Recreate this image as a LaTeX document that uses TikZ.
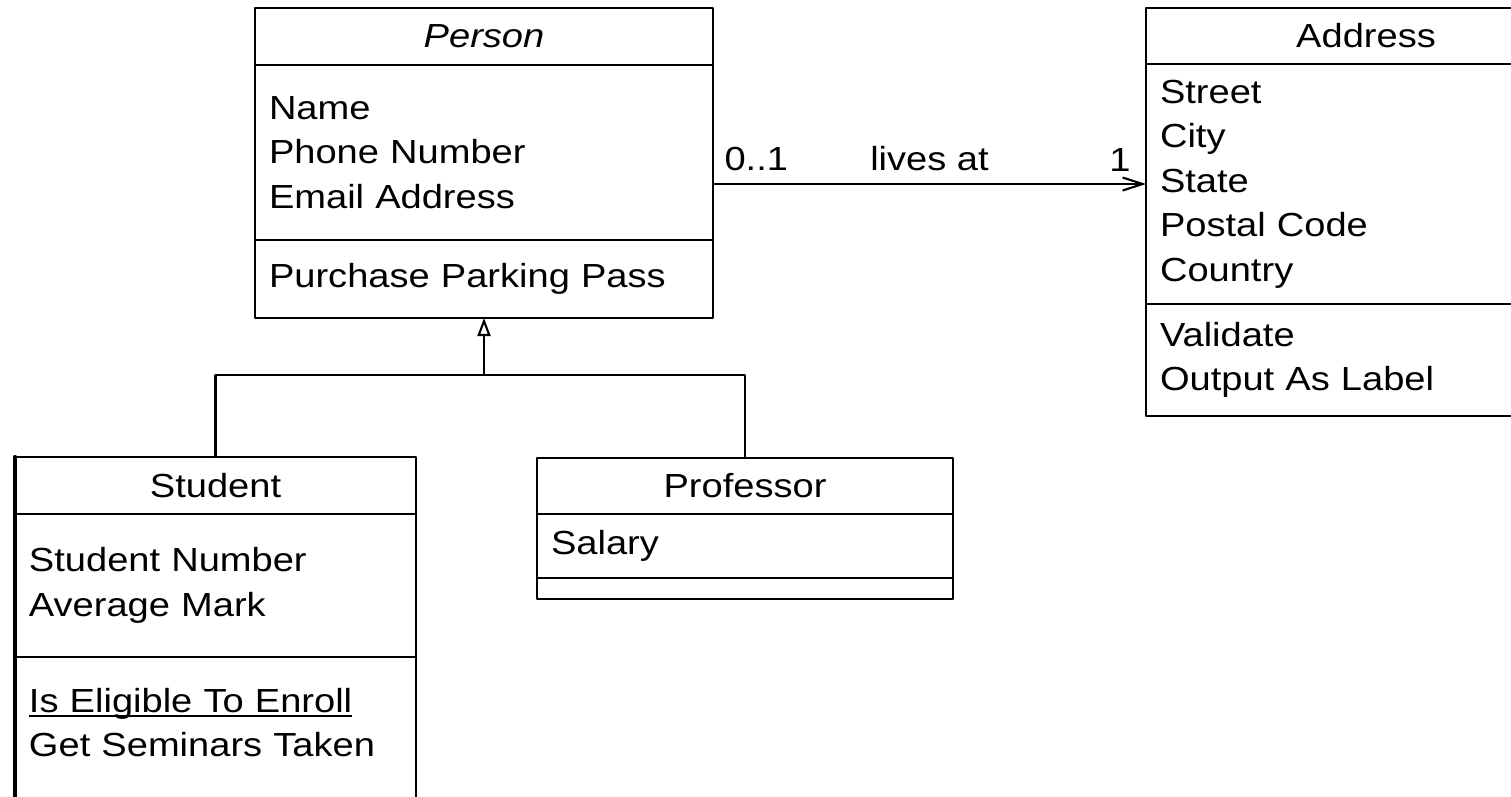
\documentclass[tikz,border=0pt]{standalone}
\usepackage{fontspec}
\setmainfont[FakeStretch=1.14]{Liberation Sans}
\usetikzlibrary{positioning,arrows.meta}
\newcommand{\subrayado}[1]{\setbox0\hbox{#1}\rlap{\rule[-1.3pt]{\wd0}{0.55pt}}\box0}

\begin{document}
\begin{tikzpicture}[x=1cm,y=-1cm,line cap=round,line join=round,
        font=\fontsize{9.5}{12.66}\selectfont,
        caja/.style={draw,line width=0.6pt,rectangle,outer sep=0pt,
            inner xsep=0.14cm,inner ysep=0pt,align=left},
        cabeza/.style={caja,align=center},
        linea/.style={line width=0.6pt},
        asociacion/.style={line width=0.6pt,-{Straight Barb[length=0.2cm,width=0.13cm]}},
        herencia/.style={line width=0.6pt,-{Triangle[open,length=0.18cm,width=0.13cm]}}]
        \useasboundingbox (0,0) rectangle (15.11,7.96);
        \clip (0,0) rectangle (15.11,7.96);

        % Clase abstracta Person
        \node[cabeza,text width=4.30cm,minimum height=0.57cm,anchor=north west]
            (personhead) at (2.55,0.08) {\itshape Person};
        \node[caja,text width=4.30cm,minimum height=1.75cm,below=0pt of personhead]
            (personattr) {Name\\Phone Number\\Email Address};
        \node[caja,text width=4.30cm,minimum height=0.78cm,below=0pt of personattr]
            (personops) {Purchase Parking Pass};

        % Clase Address
        \node[cabeza,text width=4.12cm,minimum height=0.56cm,anchor=north west]
            (addrhead) at (11.46,0.08) {Address};
        \node[caja,text width=4.12cm,minimum height=2.40cm,below=0pt of addrhead]
            (addrattr) {Street\\City\\State\\Postal Code\\Country};
        \node[caja,text width=4.12cm,minimum height=1.12cm,below=0pt of addrattr]
            (addrops) {Validate\\Output As Label};

        % Subclases
        \node[cabeza,text width=3.73cm,minimum height=0.57cm,anchor=north west]
            (studhead) at (0.15,4.57) {Student};
        \node[caja,text width=3.73cm,minimum height=1.43cm,below=0pt of studhead]
            (studattr) {Student Number\\Average Mark};
        \node[caja,text width=3.73cm,minimum height=1.60cm,text depth=0.74cm,below=0pt of studattr]
            (studops) {\subrayado{Is Eligible To Enroll}\\Get Seminars Taken};
        \draw[line width=1.2pt] (studhead.north west) -- (studops.south west);

        \node[cabeza,text width=3.88cm,minimum height=0.56cm,anchor=north west]
            (profhead) at (5.37,4.58) {Professor};
        \node[caja,text width=3.88cm,minimum height=0.64cm,below=0pt of profhead]
            (profattr) {Salary};
        \node[caja,text width=3.88cm,minimum height=0.21cm,below=0pt of profattr]
            (profops) {};

        % Asociacion
        \draw[asociacion] (addrattr.west -| personattr.east) -- (addrattr.west)
            node[above,pos=0.10] {0..1}
            node[above,pos=0.50] {lives at}
            node[above,pos=0.94] {1};

        % Generalizacion
        \coordinate (fork) at ([yshift=-0.57cm]personops.south);
        \draw[linea] (studhead.north) |- (fork);
        \draw[linea] (profhead.north) |- (fork);
        \draw[herencia] (fork) -- (personops.south);
    \end{tikzpicture}
\end{document}
